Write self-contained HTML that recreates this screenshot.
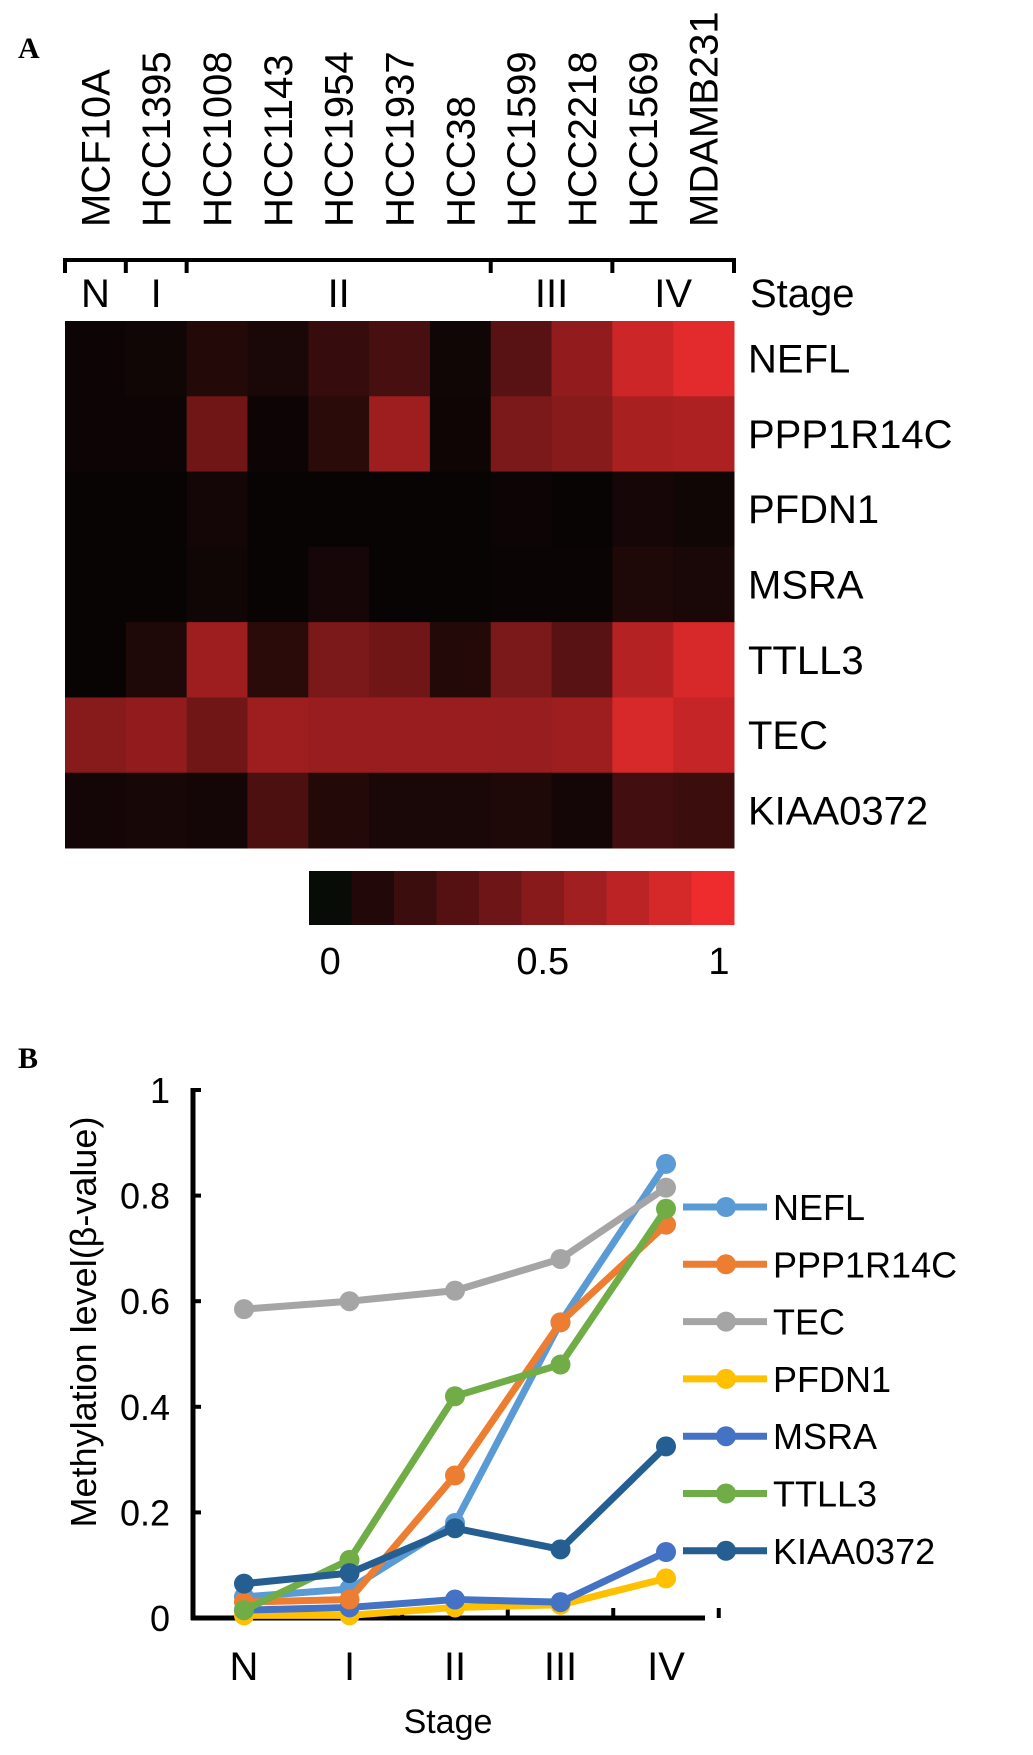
<!DOCTYPE html>
<html><head><meta charset="utf-8"><style>
html,body{margin:0;padding:0;background:#fff;}
svg{display:block;font-family:"Liberation Sans",sans-serif;}
</style></head><body>
<svg id="fig" width="1033" height="1755" viewBox="0 0 1033 1755" xmlns="http://www.w3.org/2000/svg">
<text x="18" y="58" font-family="Liberation Serif" font-weight="bold" font-size="30">A</text>
<text x="18" y="1068" font-family="Liberation Serif" font-weight="bold" font-size="30">B</text>
<g id="heat"></g>
<g id="bar"></g>
<g id="line"></g>
</svg>
<script>
const cellLines=["MCF10A","HCC1395","HCC1008","HCC1143","HCC1954","HCC1937","HCC38","HCC1599","HCC2218","HCC1569","MDAMB231"];
const genes=["NEFL","PPP1R14C","PFDN1","MSRA","TTLL3","TEC","KIAA0372"];
const heatNEFL=[0.02,0.04,0.12,0.08,0.2,0.28,0.04,0.35,0.6,0.85,0.95];
const heatPPP1R14C=[0.02,0.02,0.45,0.02,0.15,0.65,0.03,0.5,0.55,0.7,0.72];
const heatPFDN1=[0,0,0.05,0,0,0,0,0.02,0,0.06,0.04];
const heatMSRA=[0,0,0.04,0,0.06,0,0,0.01,0.01,0.1,0.08];
const heatTTLL3=[0,0.1,0.65,0.15,0.5,0.45,0.12,0.5,0.35,0.75,0.9];
const heatTEC=[0.55,0.6,0.45,0.65,0.63,0.63,0.63,0.62,0.65,0.9,0.82];
const heatKIAA0372=[0.05,0.07,0.05,0.3,0.12,0.08,0.08,0.1,0.05,0.25,0.22];
const heatRows=[heatNEFL,heatPPP1R14C,heatPFDN1,heatMSRA,heatTTLL3,heatTEC,heatKIAA0372];
const stageNames=["N","I","II","III","IV"];
const stageCounts=[1,1,5,2,2];
const scaleTicks=["0","0.5","1"];
const scaleTickValues=[0.05,0.55,1.0];

const stages=["N","I","II","III","IV"];
const seriesNames=["NEFL","PPP1R14C","TEC","PFDN1","MSRA","TTLL3","KIAA0372"];
const vNEFL=[0.04,0.055,0.18,0.56,0.86];
const vPPP1R14C=[0.03,0.035,0.27,0.56,0.745];
const vTEC=[0.585,0.6,0.62,0.68,0.815];
const vPFDN1=[0.005,0.005,0.02,0.025,0.075];
const vMSRA=[0.015,0.02,0.035,0.03,0.125];
const vTTLL3=[0.015,0.11,0.42,0.48,0.775];
const vKIAA0372=[0.065,0.085,0.17,0.13,0.325];
const seriesValues=[vNEFL,vPPP1R14C,vTEC,vPFDN1,vMSRA,vTTLL3,vKIAA0372];
const yTicks=[0,0.2,0.4,0.6,0.8,1];
const yTickLabels=["0","0.2","0.4","0.6","0.8","1"];

const NS="http://www.w3.org/2000/svg";
function mk(tag,attrs,parent,text){const e=document.createElementNS(NS,tag);for(const k in attrs)e.setAttribute(k,attrs[k]);if(text!==undefined)e.textContent=text;parent.appendChild(e);return e;}
function col(v){const r=Math.round(8+v*230),g=Math.round(4+v*40),b=Math.round(4+v*42);return `rgb(${r},${g},${b})`;}

const H=document.getElementById('heat');
const hx0=65,hx1=734,hy0=321,hy1=848;
const cw=(hx1-hx0)/cellLines.length, ch=(hy1-hy0)/genes.length;
const hx=i=>hx0+i*cw, hy=j=>hy0+j*ch;
heatRows.forEach((row,j)=>row.forEach((v,i)=>{
  const r=mk('rect',{x:hx(i),y:hy(j),width:cw+0.5,height:ch+0.5,fill:col(v)},H);
  
  
}));
cellLines.forEach((c,i)=>{
  const t=mk('text',{transform:`translate(${hx(i)+cw/2+14},227) rotate(-90)`,'font-size':40},H,c);
  
  
});
genes.forEach((g,j)=>{
  const t=mk('text',{x:748,y:hy(j)+ch/2+14,'font-size':40},H,g);
  
  
});
const br=mk('g',{},H);


mk('line',{x1:hx0,y1:260,x2:hx1,y2:260,stroke:'#000','stroke-width':4},br);
let acc=0;
const bounds=[0];stageCounts.forEach(n=>{acc+=n;bounds.push(acc);});
bounds.forEach(b=>mk('line',{x1:hx(b),y1:258,x2:hx(b),y2:273,stroke:'#000','stroke-width':4},br));
stageNames.forEach((s,k)=>{
  const cx=(hx(bounds[k])+hx(bounds[k+1]))/2;
  const t=mk('text',{x:cx,y:307,'font-size':40,'text-anchor':'middle'},br,s);
  
  
});
const st=mk('text',{x:750,y:307,'font-size':40},br,'Stage');



const B=document.getElementById('bar');
const bx0=309,bx1=734,by0=871,by1=925,nb=10;
for(let k=0;k<nb;k++){
  const r=mk('rect',{x:bx0+k*(bx1-bx0)/nb,y:by0,width:(bx1-bx0)/nb+0.5,height:by1-by0,fill:k===0?'rgb(8,12,6)':col(k/(nb-1))},B);
  
  
}
scaleTicks.forEach((s,k)=>{
  const t=mk('text',{x:bx0+scaleTickValues[k]*(bx1-bx0)-(k===2?15:0),y:974,'font-size':38,'text-anchor':'middle'},B,s);
  
  
});

const L=document.getElementById('line');
const ax0=193,ax1=703,ay0=1618,ay1=1090;
const xs=i=>244+i*105.5;
const ys=v=>ay0-v*(ay0-ay1);
const colors=["#5b9bd5","#ed7d31","#a5a5a5","#ffc000","#4472c4","#70ad47","#255e91"];
mk('line',{x1:ax0,y1:ay1-2,x2:ax0,y2:ay0+2,stroke:'#000','stroke-width':5},L);
mk('line',{x1:ax0-2,y1:ay0,x2:ax1+2,y2:ay0,stroke:'#000','stroke-width':5},L);
yTicks.forEach((v,k)=>{
  mk('line',{x1:ax0,y1:ys(v),x2:ax0+8,y2:ys(v),stroke:'#000','stroke-width':4},L);
  const t=mk('text',{x:170,y:ys(v)+13,'font-size':36,'text-anchor':'end'},L,yTickLabels[k]);
  
  
});
for(let i=0;i<stages.length;i++){
  const tx=xs(i)+52.75;
  mk('line',{x1:tx,y1:ay0,x2:tx,y2:ay0-10,stroke:'#000','stroke-width':4},L);
}
stages.forEach((s,i)=>{
  const t=mk('text',{x:xs(i),y:1680,'font-size':40,'text-anchor':'middle'},L,s);
  
  
});
const xt=mk('text',{x:448,y:1733,'font-size':34,'text-anchor':'middle'},L,'Stage');


const yt=mk('text',{transform:'translate(96,1322) rotate(-90)','font-size':36,'text-anchor':'middle'},L,'Methylation level(β-value)');


const order=[3,4,0,1,5,6,2];
order.forEach(s=>{
  const g=mk('g',{},L);
  
  
  mk('polyline',{points:seriesValues[s].map((v,i)=>xs(i)+','+ys(v)).join(' '),fill:'none',stroke:colors[s],'stroke-width':7,'stroke-linejoin':'round'},g);
  seriesValues[s].forEach((v,i)=>{
    const c=mk('circle',{cx:xs(i),cy:ys(v),r:10,fill:colors[s]},g);
    
    
  });
});
seriesNames.forEach((n,k)=>{
  const y=1207+k*57.3;
  const g=mk('g',{},L);
  
  
  mk('line',{x1:683,y1:y,x2:767,y2:y,stroke:colors[k],'stroke-width':7},g);
  mk('circle',{cx:726,cy:y,r:10,fill:colors[k]},g);
  mk('text',{x:773,y:y+13,'font-size':36},g,n);
});
</script>
</body></html>
